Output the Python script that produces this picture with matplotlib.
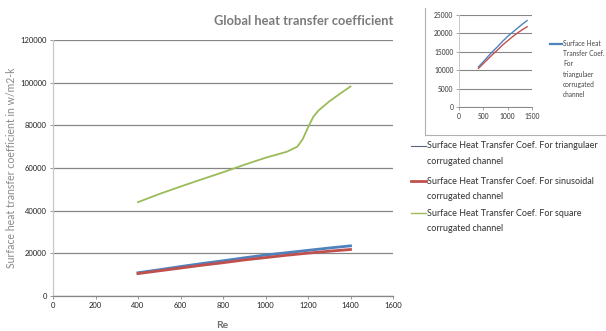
import numpy as np
import matplotlib.pyplot as plt
from matplotlib.lines import Line2D

plt.rcParams['font.family'] = ['Lato', 'DejaVu Sans']

# Reynolds number and surface heat transfer coefficient (w/m2-k)
re = [400, 500, 600, 700, 800, 900, 1000, 1100, 1200, 1300, 1400]
h_triangular = [10900, 12300, 13800, 15200, 16500, 17900, 19200, 20300, 21400, 22500, 23500]
h_sinusoidal = [10500, 11800, 13100, 14400, 15600, 16900, 18000, 19100, 20100, 21000, 21800]

re_square = [400, 500, 600, 700, 800, 900, 1000, 1050, 1100, 1150, 1175, 1200, 1225, 1250, 1300, 1350, 1400]
h_square = [44000, 47800, 51300, 54700, 58000, 61500, 64800, 66200, 67600, 70000, 73500, 79000, 84000, 87000, 91200, 94800, 98200]

x_ticks = [0, 200, 400, 600, 800, 1000, 1200, 1400, 1600]
y_ticks = [0, 20000, 40000, 60000, 80000, 100000, 120000]
inset_x_ticks = [0, 500, 1000, 1500]
inset_y_ticks = [0, 5000, 10000, 15000, 20000, 25000]

legend_labels = [
    ('Surface Heat Transfer Coef. For triangulaer', 'corrugated channel'),
    ('Surface Heat Transfer Coef. For sinusoidal', 'corrugated channel'),
    ('Surface Heat Transfer Coef. For square', 'corrugated channel'),
]

blue = '#4F81BD'
red = '#C0504D'
green = '#9BBB59'
grid_c = '#868686'
W, H = 606, 331

fig = plt.figure(figsize=(W / 100, H / 100), dpi=100)
fig.patch.set_facecolor('white')


def fx(px):
    return px / W


def fy(py):
    return 1 - py / H


# main chart
ax = fig.add_axes([fx(53), fy(296), fx(393) - fx(53), fy(40) - fy(296)])
ax.plot(re, h_triangular, color=blue, lw=2.0)
ax.plot(re, h_sinusoidal, color=red, lw=2.0)
ax.plot(re_square, h_square, color=green, lw=1.3)
ax.set_xlim(0, 1600)
ax.set_ylim(0, 120000)
ax.set_xticks(x_ticks)
ax.set_yticks(y_ticks)
ax.tick_params(labelsize=5.5, length=2.5, width=0.6, color=grid_c, labelcolor='#222222', pad=2)
ax.yaxis.grid(True, color=grid_c, lw=0.9)
ax.set_axisbelow(True)
for s in ['top', 'right']:
    ax.spines[s].set_visible(False)
ax.spines['left'].set_color('#c8c8c8')
ax.spines['bottom'].set_color(grid_c)
ax.spines['left'].set_linewidth(0.9)
ax.spines['bottom'].set_linewidth(0.9)

fig.text(fx(393), fy(21), 'Global heat transfer coefficient', ha='right', va='center',
         fontsize=9.3, color='#7a7a7a', fontweight='bold')
fig.text(fx(12), fy(168), 'Surface heat transfer coefficient in w/m2-k', rotation=90,
         ha='center', va='center', fontsize=7.6, color='#8a8a8a')
fig.text(fx(222), fy(325), 'Re', ha='center', va='center', fontsize=7.5,
         color='#707070', fontweight='bold')

# small chart in the corner
frame_c = '#b0b0b0'
fig.add_artist(Line2D([fx(425), fx(425)], [fy(8), fy(135)], color=frame_c, lw=0.8))
fig.add_artist(Line2D([fx(425), fx(606)], [fy(135), fy(135)], color=frame_c, lw=0.8))

ins = fig.add_axes([fx(459), fy(107), fx(532) - fx(459), fy(15) - fy(107)])
ins.plot(re, h_triangular, color=blue, lw=1.0)
ins.plot(re, h_sinusoidal, color=red, lw=1.0)
ins.set_xlim(0, 1500)
ins.set_ylim(0, 25000)
ins.set_xticks(inset_x_ticks)
ins.set_yticks(inset_y_ticks)
ins.tick_params(labelsize=4.8, length=2, width=0.5, color=grid_c, labelcolor='#333333', pad=2)
ins.yaxis.grid(True, color=grid_c, lw=0.8)
ins.set_axisbelow(True)
for s in ['top', 'right']:
    ins.spines[s].set_visible(False)
ins.spines['left'].set_color('#c8c8c8')
ins.spines['bottom'].set_color(grid_c)
ins.spines['left'].set_linewidth(0.7)
ins.spines['bottom'].set_linewidth(0.7)

fig.add_artist(Line2D([fx(550), fx(562)], [fy(44), fy(44)], color=blue, lw=1.6))
ins_lines = ['Surface Heat', 'Transfer Coef.', 'For', 'triangulaer', 'corrugated', 'channel']
for i, t in enumerate(ins_lines):
    fig.text(fx(563), fy(44 + i * 10), t, ha='left', va='center', fontsize=4.8, color='#444444')

# legend of the main chart
entry_y = [146, 181, 213]
entry_style = [('#5a6478', 0.8), (red, 2.0), (green, 1.0)]
for (l1, l2), y0, (c, w) in zip(legend_labels, entry_y, entry_style):
    fig.add_artist(Line2D([fx(411), fx(426)], [fy(y0), fy(y0)], color=c, lw=w))
    fig.text(fx(427), fy(y0), l1, ha='left', va='center', fontsize=6.5, color='#333333')
    fig.text(fx(427), fy(y0 + 15.5), l2, ha='left', va='center', fontsize=6.5, color='#333333')

fig.savefig('out.png', dpi=100)
